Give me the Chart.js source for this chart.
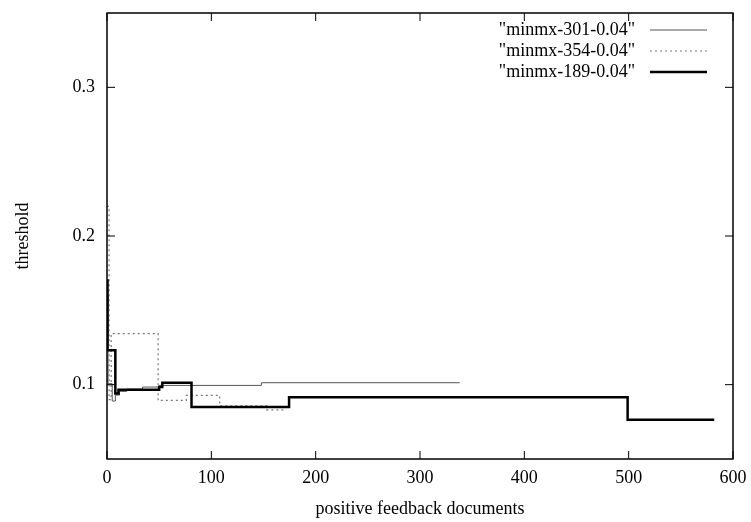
<!DOCTYPE html>
<html lang="en">
<head>
  <meta charset="UTF-8">
  <title>threshold vs positive feedback documents</title>
  <script src="https://cdn.jsdelivr.net/npm/chart.js"></script>
  <style>
    body { margin: 0; background: #fff; }
  </style>
</head>
<body>
  <canvas id="thresholdChart" width="751" height="522"></canvas>
  <script>
    // step data (x = positive feedback docs, y = threshold)
    const x301 = [0, 1, 5, 8, 12, 19, 34, 50, 148, 338];
    const y301 = [0.16, 0.1007, 0.089, 0.093, 0.0955, 0.097, 0.0984, 0.0995, 0.1013, 0.1013];

    const x354 = [0, 2, 4, 49, 76, 108, 153, 172];
    const y354 = [0.22, 0.09, 0.1344, 0.0894, 0.0928, 0.0858, 0.0831, 0.0831];

    const x189 = [0, 0.5, 8, 11, 50, 53, 81, 174.5, 499, 582];
    const y189 = [0.17, 0.1231, 0.094, 0.0966, 0.0985, 0.1013, 0.0849, 0.0916, 0.0764, 0.0764];

    const seriesNames = ['"minmx-301-0.04"', '"minmx-354-0.04"', '"minmx-189-0.04"'];
    const xTicks = [0, 100, 200, 300, 400, 500, 600];
    const yTicks = [0.1, 0.2, 0.3];

    const serif = 'Liberation Serif';

    function toPoints(xs, ys) {
      return xs.map((x, i) => ({ x: x, y: ys[i] }));
    }

    // gnuplot-like box with inward ticks on all four sides
    const framePlugin = {
      id: 'frame',
      afterDatasetsDraw(chart) {
        const ctx = chart.ctx;
        const a = chart.chartArea;
        const xs = chart.scales.x;
        const ys = chart.scales.y;
        const len = 8;
        ctx.save();
        ctx.strokeStyle = '#000';
        ctx.lineWidth = 1.5;
        ctx.strokeRect(a.left, a.top, a.right - a.left, a.bottom - a.top);
        ctx.lineWidth = 1;
        ctx.beginPath();
        xTicks.forEach(v => {
          const px = xs.getPixelForValue(v);
          ctx.moveTo(px, a.bottom); ctx.lineTo(px, a.bottom - len);
          ctx.moveTo(px, a.top); ctx.lineTo(px, a.top + len);
        });
        yTicks.forEach(v => {
          const py = ys.getPixelForValue(v);
          ctx.moveTo(a.left, py); ctx.lineTo(a.left + len, py);
          ctx.moveTo(a.right, py); ctx.lineTo(a.right - len, py);
        });
        ctx.stroke();
        ctx.restore();
      }
    };

    // legend in the top right corner: label then line sample
    const keyPlugin = {
      id: 'key',
      afterDraw(chart) {
        const ctx = chart.ctx;
        const textRight = 635;
        const lineStart = 650;
        const lineEnd = 707;
        const rowY = [30, 51, 72];
        ctx.save();
        ctx.font = '18px "' + serif + '"';
        ctx.textAlign = 'right';
        ctx.textBaseline = 'middle';
        ctx.fillStyle = '#000';
        chart.data.datasets.forEach((ds, i) => {
          ctx.fillText(seriesNames[i], textRight, rowY[i]);
          ctx.strokeStyle = ds.borderColor;
          ctx.lineWidth = ds.borderWidth;
          ctx.setLineDash(ds.borderDash || []);
          ctx.beginPath();
          ctx.moveTo(lineStart, rowY[i]);
          ctx.lineTo(lineEnd, rowY[i]);
          ctx.stroke();
        });
        ctx.restore();
      }
    };

    const ctx = document.getElementById('thresholdChart').getContext('2d');
    new Chart(ctx, {
      type: 'line',
      data: {
        datasets: [
          {
            label: seriesNames[0],
            data: toPoints(x301, y301),
            borderColor: '#555',
            borderWidth: 1,
            stepped: true,
            pointRadius: 0,
            fill: false,
            order: 2
          },
          {
            label: seriesNames[1],
            data: toPoints(x354, y354),
            borderColor: '#777',
            borderWidth: 1.2,
            borderDash: [2, 3],
            stepped: true,
            pointRadius: 0,
            fill: false,
            order: 1
          },
          {
            label: seriesNames[2],
            data: toPoints(x189, y189),
            borderColor: '#000',
            borderWidth: 2.5,
            stepped: true,
            pointRadius: 0,
            fill: false,
            order: 0
          }
        ]
      },
      options: {
        responsive: false,
        animation: false,
        layout: { padding: { left: 0, right: 18, top: 13, bottom: 0 } },
        plugins: {
          legend: { display: false },
          tooltip: { enabled: false }
        },
        scales: {
          x: {
            type: 'linear',
            min: 0,
            max: 600,
            afterBuildTicks(scale) { scale.ticks = xTicks.map(v => ({ value: v })); },
            afterFit(scale) {
              scale.height = 63;
              scale.paddingLeft = 0;
              scale.paddingRight = 0;
            },
            grid: { display: false, drawTicks: false },
            border: { display: false },
            ticks: { color: '#000', padding: 8, font: { family: serif, size: 18 } },
            title: {
              display: true,
              text: 'positive feedback documents',
              color: '#000',
              font: { family: serif, size: 18 },
              padding: { top: 0, bottom: 2 }
            }
          },
          y: {
            type: 'linear',
            min: 0.05,
            max: 0.35,
            afterBuildTicks(scale) { scale.ticks = yTicks.map(v => ({ value: v })); },
            afterFit(scale) {
              scale.width = 107;
              scale.paddingTop = 0;
              scale.paddingBottom = 0;
            },
            grid: { display: false, drawTicks: false },
            border: { display: false },
            ticks: {
              color: '#000',
              padding: 12,
              font: { family: serif, size: 18 },
              callback: v => v.toFixed(1)
            },
            title: {
              display: true,
              text: 'threshold',
              color: '#000',
              font: { family: serif, size: 18 },
              padding: { top: 12, bottom: 0 }
            }
          }
        }
      },
      plugins: [framePlugin, keyPlugin]
    });
  </script>
</body>
</html>
